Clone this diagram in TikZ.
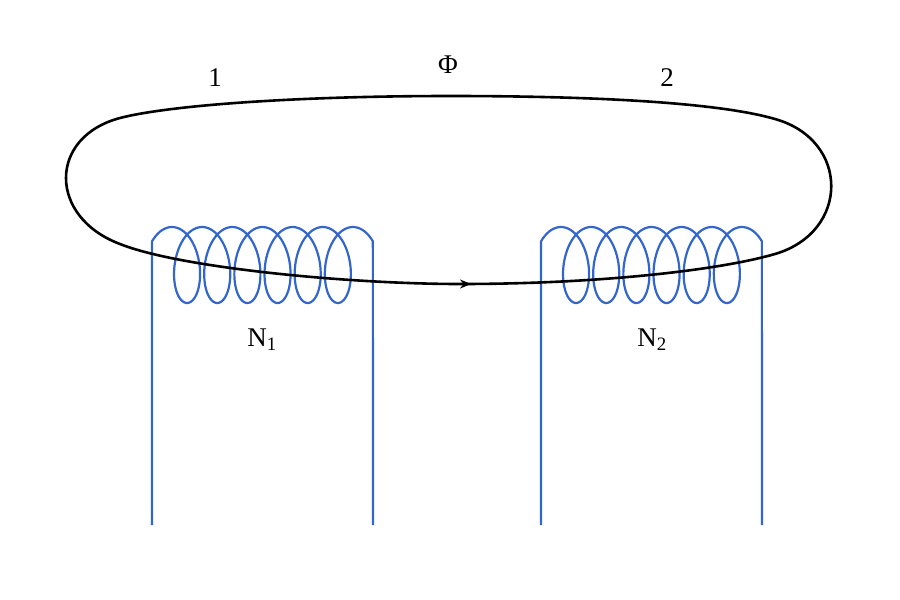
\documentclass[tikz,border=0pt]{standalone}
\usepackage{fontspec}
\setmainfont{Liberation Serif}
\usetikzlibrary{arrows.meta}
\definecolor{coil}{RGB}{51,102,204}
\begin{document}
\begin{tikzpicture}[x=1pt,y=-1pt,
  coilw/.style={draw=coil,line width=2.2pt,line join=round},
  flux/.style={draw=black,line width=2.6pt},
  lab/.style={font=\fontsize{27}{30}\selectfont,inner sep=0pt}]
\useasboundingbox (0,0) rectangle (900,600);
\foreach \xa in {152,541}{
  \draw[coilw] (\xa,525) -- (\xa,241.4)
    plot[smooth,samples=400,variable=\u,domain=-0.9:38.6] ({\xa+15.66+0.9*4.80+4.80*\u+20*sin(\u r)},{265-38*cos(\u r)})
    -- (\xa+221,525);
}
\draw[flux] (450,96) .. controls (300,96) and (170,105) .. (120,118)
  .. controls (48,137) and (48,217) .. (120,244)
  .. controls (180,268) and (350,284) .. (460,284)
  .. controls (600,284) and (720,270) .. (775,254)
  .. controls (850,232) and (850,140) .. (775,119)
  .. controls (720,103) and (600,96) .. (450,96) -- cycle;
\coordinate (a0) at (455,284);
\coordinate (a1) at (471,284);
\draw[flux,-{Stealth[length=11pt,width=9pt]}] (a0) -- (a1);
\node[lab] (n1) at (215,78) {1};
\node[lab] (phi) at (448,65) {Φ};
\node[lab] (n2) at (667,78) {2};
\node[lab] (N1) at (262,340) {N\textsubscript{1}};
\node[lab] (N2) at (652,340) {N\textsubscript{2}};
\end{tikzpicture}
\end{document}
